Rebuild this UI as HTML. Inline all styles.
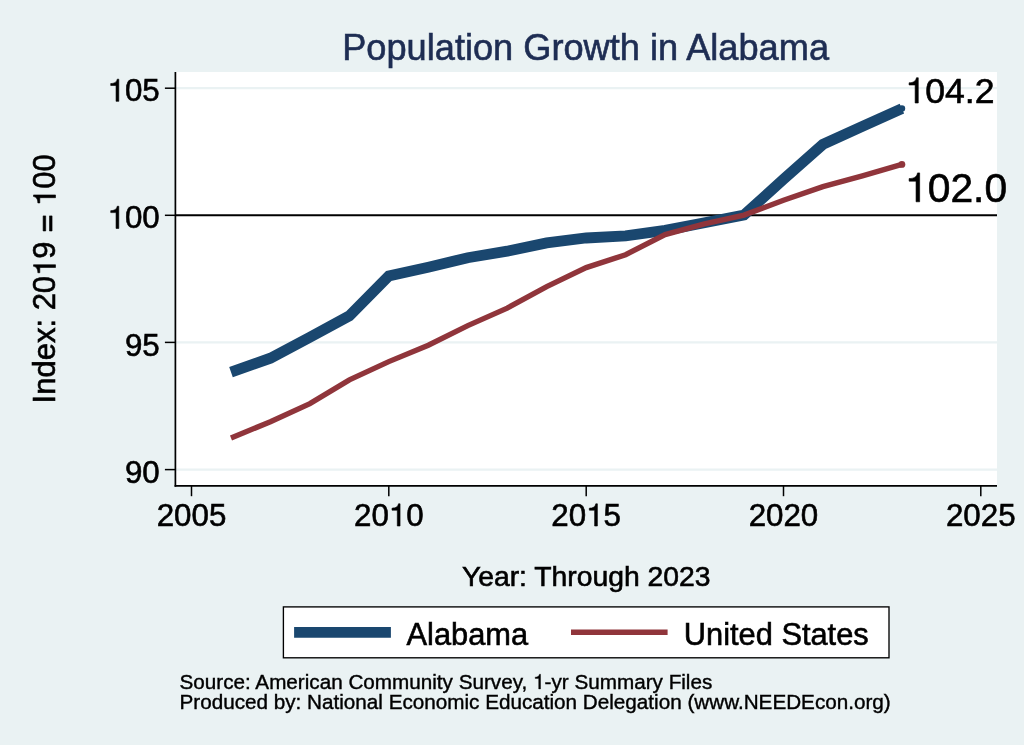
<!DOCTYPE html>
<html><head><meta charset="utf-8"><title>Population Growth in Alabama</title>
<style>
html,body{margin:0;padding:0;background:#eaf2f3;}
body{width:1024px;height:745px;overflow:hidden;font-family:"Liberation Sans",sans-serif;}
svg{display:block;}
text{font-family:"Liberation Sans",sans-serif;stroke-width:0.6px;}
</style></head><body>
<div id="chart" style="will-change:transform;width:1024px;height:745px;background:#eaf2f3">
<svg width="1024" height="745" viewBox="0 0 1024 745">
<rect x="0" y="0" width="1024" height="745" fill="#eaf2f3"/>
<!-- plot region -->
<rect x="175.4" y="72" width="821.6" height="413.9" fill="#ffffff"/>
<line x1="176" y1="88.2" x2="997" y2="88.2" stroke="#eaf2f3" stroke-width="2.2"/>
<line x1="176" y1="342.4" x2="997" y2="342.4" stroke="#eaf2f3" stroke-width="2.2"/>
<line x1="176" y1="469.6" x2="997" y2="469.6" stroke="#eaf2f3" stroke-width="2.2"/>
<line x1="175.4" y1="215.3" x2="997" y2="215.3" stroke="#000" stroke-width="2"/>
<!-- series -->
<polyline points="231.0,372.1 270.4,358.2 309.9,337.2 349.4,315.8 388.8,276.0 428.3,267.3 467.8,257.7 507.2,251.2 546.7,242.9 586.2,238.0 625.6,235.9 665.1,230.3 704.5,222.8 744.0,215.1 783.5,179.3 822.9,144.4 862.4,126.4 901.9,108.6" fill="none" stroke="#1a476f" stroke-width="10.8" stroke-linejoin="miter"/>
<circle cx="901.9" cy="108.6" r="3.3" fill="#1a476f"/>
<polyline points="231.0,437.9 270.4,421.8 309.9,403.6 349.4,379.9 388.8,361.6 428.3,345.2 467.8,325.6 507.2,308.1 546.7,286.6 586.2,267.6 625.6,254.7 665.1,234.6 704.5,223.8 744.0,215.1 783.5,200.3 822.9,186.6 862.4,175.8 901.9,164.4" fill="none" stroke="#90353b" stroke-width="5.4" stroke-linejoin="miter"/>
<circle cx="901.9" cy="164.4" r="3.4" fill="#90353b"/>
<!-- axes -->
<line x1="175.4" y1="71.9" x2="175.4" y2="486.7" stroke="#000" stroke-width="1.7"/>
<line x1="174.6" y1="485.9" x2="997" y2="485.9" stroke="#000" stroke-width="1.7"/>
<line x1="164.9" y1="469.6" x2="175.4" y2="469.6" stroke="#000" stroke-width="1.5"/>
<text xml:space="preserve" x="124.98" y="482.65" font-size="31.3" style="fill:#000;stroke:#000;stroke-width:0.6px">90</text>
<line x1="164.9" y1="342.4" x2="175.4" y2="342.4" stroke="#000" stroke-width="1.5"/>
<text xml:space="preserve" x="124.98" y="355.55" font-size="31.3" style="fill:#000;stroke:#000;stroke-width:0.6px">95</text>
<line x1="164.9" y1="215.3" x2="175.4" y2="215.3" stroke="#000" stroke-width="1.5"/>
<path transform="translate(107.57,228.45) scale(0.01528,-0.01528)" d="M735 0H555V1036H207V1165C416 1173 584 1223 631 1452H735Z" fill="#000" stroke="#000" stroke-width="39.3"/><text xml:space="preserve" x="124.98" y="228.45" font-size="31.3" style="fill:#000;stroke:#000;stroke-width:0.6px">00</text>
<line x1="164.9" y1="88.2" x2="175.4" y2="88.2" stroke="#000" stroke-width="1.5"/>
<path transform="translate(107.57,101.35) scale(0.01528,-0.01528)" d="M735 0H555V1036H207V1165C416 1173 584 1223 631 1452H735Z" fill="#000" stroke="#000" stroke-width="39.3"/><text xml:space="preserve" x="124.98" y="101.35" font-size="31.3" style="fill:#000;stroke:#000;stroke-width:0.6px">05</text>
<line x1="191.5" y1="485.9" x2="191.5" y2="496.2" stroke="#000" stroke-width="1.5"/>
<text xml:space="preserve" x="156.68" y="526.00" font-size="31.3" style="fill:#000;stroke:#000;stroke-width:0.6px">2005</text>
<line x1="388.8" y1="485.9" x2="388.8" y2="496.2" stroke="#000" stroke-width="1.5"/>
<text xml:space="preserve" x="354.01" y="526.00" font-size="31.3" style="fill:#000;stroke:#000;stroke-width:0.6px">20</text><path transform="translate(388.83,526.00) scale(0.01528,-0.01528)" d="M735 0H555V1036H207V1165C416 1173 584 1223 631 1452H735Z" fill="#000" stroke="#000" stroke-width="39.3"/><text xml:space="preserve" x="406.24" y="526.00" font-size="31.3" style="fill:#000;stroke:#000;stroke-width:0.6px">0</text>
<line x1="586.2" y1="485.9" x2="586.2" y2="496.2" stroke="#000" stroke-width="1.5"/>
<text xml:space="preserve" x="551.33" y="526.00" font-size="31.3" style="fill:#000;stroke:#000;stroke-width:0.6px">20</text><path transform="translate(586.15,526.00) scale(0.01528,-0.01528)" d="M735 0H555V1036H207V1165C416 1173 584 1223 631 1452H735Z" fill="#000" stroke="#000" stroke-width="39.3"/><text xml:space="preserve" x="603.56" y="526.00" font-size="31.3" style="fill:#000;stroke:#000;stroke-width:0.6px">5</text>
<line x1="783.5" y1="485.9" x2="783.5" y2="496.2" stroke="#000" stroke-width="1.5"/>
<text xml:space="preserve" x="748.66" y="526.00" font-size="31.3" style="fill:#000;stroke:#000;stroke-width:0.6px">2020</text>
<line x1="980.8" y1="485.9" x2="980.8" y2="496.2" stroke="#000" stroke-width="1.5"/>
<text xml:space="preserve" x="945.98" y="526.00" font-size="31.3" style="fill:#000;stroke:#000;stroke-width:0.6px">2025</text>
<!-- titles -->
<text xml:space="preserve" x="342.21" y="59.90" font-size="36.2" style="fill:#1e2d53;stroke:#1e2d53;stroke-width:0.6px">Population Growth in Alabama</text>
<g transform="translate(55.50,278.90) rotate(-90) translate(-55.50,-278.90)"><text xml:space="preserve" x="-69.04" y="278.90" font-size="31.0" style="fill:#000;stroke:#000;stroke-width:0.6px">Index: 20</text><path transform="translate(58.51,278.90) scale(0.01514,-0.01514)" d="M735 0H555V1036H207V1165C416 1173 584 1223 631 1452H735Z" fill="#000" stroke="#000" stroke-width="39.6"/><text xml:space="preserve" x="75.75" y="278.90" font-size="31.0" style="fill:#000;stroke:#000;stroke-width:0.6px">9 </text><path transform="translate(101.60,278.90) scale(0.01514,-0.01514)" d="M120 228H1117V397H120ZM120 648H1117V817H120Z" fill="#000" stroke="#000" stroke-width="39.6"/><text xml:space="preserve" x="119.70" y="278.90" font-size="31.0" style="fill:#000;stroke:#000;stroke-width:0.6px"> </text><path transform="translate(128.32,278.90) scale(0.01514,-0.01514)" d="M735 0H555V1036H207V1165C416 1173 584 1223 631 1452H735Z" fill="#000" stroke="#000" stroke-width="39.6"/><text xml:space="preserve" x="145.56" y="278.90" font-size="31.0" style="fill:#000;stroke:#000;stroke-width:0.6px">00</text></g>
<text xml:space="preserve" x="461.89" y="585.70" font-size="28.3" style="fill:#000;stroke:#000;stroke-width:0.6px">Year: Through 2023</text>
<!-- data labels -->
<path transform="translate(905.50,103.00) scale(0.01738,-0.01738)" d="M735 0H555V1036H207V1165C416 1173 584 1223 631 1452H735Z" fill="#000" stroke="#000" stroke-width="34.5"/><text xml:space="preserve" x="925.30" y="103.00" font-size="35.6" style="fill:#000;stroke:#000;stroke-width:0.6px">04.2</text>
<path transform="translate(905.00,201.80) scale(0.01992,-0.01992)" d="M735 0H555V1036H207V1165C416 1173 584 1223 631 1452H735Z" fill="#000" stroke="#000" stroke-width="30.1"/><text xml:space="preserve" x="927.70" y="201.80" font-size="40.8" style="fill:#000;stroke:#000;stroke-width:0.6px">02.0</text>
<!-- legend -->
<rect x="283.4" y="606.9" width="605.6" height="50.9" fill="#ffffff" stroke="#000" stroke-width="1.35"/>
<line x1="294.1" y1="632.3" x2="390.9" y2="632.3" stroke="#1a476f" stroke-width="10.8"/>
<text xml:space="preserve" x="406.50" y="644.70" font-size="30.8" style="fill:#000;stroke:#000;stroke-width:0.6px">Alabama</text>
<line x1="571" y1="632.3" x2="667.6" y2="632.3" stroke="#90353b" stroke-width="5.4"/>
<text xml:space="preserve" x="683.80" y="644.70" font-size="30.8" style="fill:#000;stroke:#000;stroke-width:0.6px">United States</text>
<!-- note -->
<text xml:space="preserve" x="179.50" y="688.90" font-size="20.68" style="fill:#000;stroke:#000;stroke-width:0.4px">Source: American Community Survey, </text><path transform="translate(533.10,688.90) scale(0.01010,-0.01010)" d="M735 0H555V1036H207V1165C416 1173 584 1223 631 1452H735Z" fill="#000" stroke="#000" stroke-width="39.6"/><text xml:space="preserve" x="544.60" y="688.90" font-size="20.68" style="fill:#000;stroke:#000;stroke-width:0.4px">-yr Summary Files</text>
<text xml:space="preserve" x="179.50" y="708.80" font-size="20.68" style="fill:#000;stroke:#000;stroke-width:0.4px">Produced by: National Economic Education Delegation (www.NEEDEcon.org)</text>
</svg>
</div>
</body></html>
